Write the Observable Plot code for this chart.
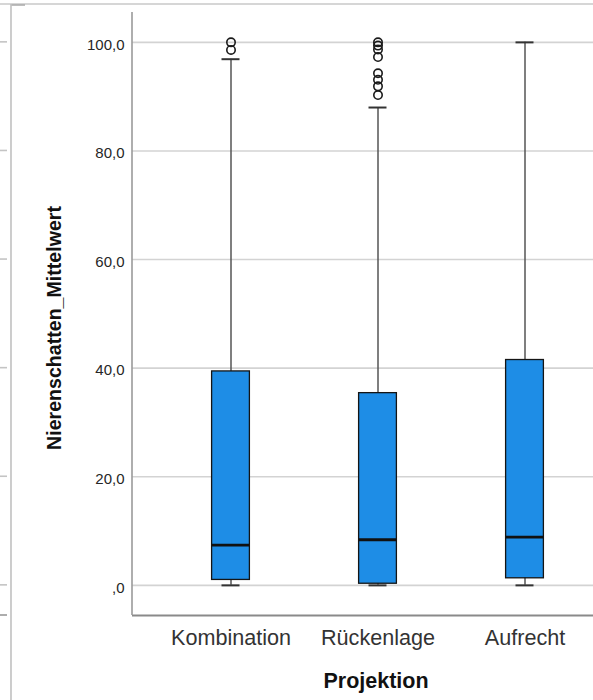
<!DOCTYPE html>
<html>
<head>
<meta charset="utf-8">
<script src="https://cdn.jsdelivr.net/npm/d3@7"></script>
<script src="https://cdn.jsdelivr.net/npm/@observablehq/plot@0.6"></script>
<style>
  body { margin: 0; background: #fff; }
  #chart { width: 593px; height: 700px; }
  #chart svg { display: block; }
</style>
</head>
<body>
<div id="chart"></div>
<script>
// Box plot summary per projection (whiskers, quartiles, median)
const categories = ["Kombination", "Rückenlage", "Aufrecht"];
const whiskerLow  = [0, 0, 0];
const quartile1   = [1.0, 0.3, 1.3];
const median      = [7.4, 8.4, 8.9];
const quartile3   = [39.4, 35.4, 41.5];
const whiskerHigh = [96.9, 88.0, 100];

// Outliers above the upper whiskers
const outlierGroup = ["Kombination", "Kombination",
  "Rückenlage", "Rückenlage", "Rückenlage", "Rückenlage", "Rückenlage",
  "Rückenlage", "Rückenlage", "Rückenlage"];
const outlierValue = [100, 98.6,
  100, 99.4, 98.7, 97.3,
  94.3, 93.1, 91.9, 90.3];

// Value axis
const yTicks = [0, 20, 40, 60, 80, 100];
const yTickLabels = [",0", "20,0", "40,0", "60,0", "80,0", "100,0"];
const yDomain = [-5.55, 105.5];

const yTitle = "Nierenschatten_Mittelwert";
const xTitle = "Projektion";

const boxes = categories.map((c, i) => ({
  c, lo: whiskerLow[i], q1: quartile1[i], med: median[i], q3: quartile3[i], hi: whiskerHigh[i]
}));
const outliers = outlierGroup.map((c, i) => ({c, v: outlierValue[i]}));

const W = 593, H = 700;
const mLeft = 132, mTop = 12, mBottom = 85;
const boxInset = 54.6;   // box width within each 147px band
const capInset = 64.5;   // whisker cap width

const chart = Plot.plot({
  width: W,
  height: H,
  marginLeft: mLeft,
  marginRight: 0,
  marginTop: mTop,
  marginBottom: mBottom,
  style: {fontFamily: "'Liberation Sans', Arial, sans-serif", background: "#fff", color: "#262626", overflow: "visible"},
  x: {domain: categories, range: [156.5, 597.5], padding: 0},
  y: {domain: yDomain},
  marks: [
    Plot.ruleY(yTicks, {stroke: "#d3d3d3", strokeWidth: 1.6}),
    Plot.ruleY([yDomain[0]], {stroke: "#8a8a8a", strokeWidth: 2}),
    Plot.ruleX(boxes, {x: "c", y1: "lo", y2: "hi", stroke: "#555", strokeWidth: 1.5}),
    Plot.tickY(boxes, {x: "c", y: "lo", insetLeft: capInset, insetRight: capInset, stroke: "#333", strokeWidth: 2}),
    Plot.tickY(boxes, {x: "c", y: "hi", insetLeft: capInset, insetRight: capInset, stroke: "#333", strokeWidth: 2}),
    Plot.barY(boxes, {x: "c", y1: "q1", y2: "q3", fill: "#1E8DE6", stroke: "#151515", strokeWidth: 1.3,
      insetLeft: boxInset, insetRight: boxInset}),
    Plot.tickY(boxes, {x: "c", y: "med", insetLeft: boxInset, insetRight: boxInset, stroke: "#111", strokeWidth: 2.8}),
    Plot.dot(outliers, {x: "c", y: "v", r: 4.2, stroke: "#1a1a1a", strokeWidth: 1.6, fill: "none"}),
    Plot.axisY(yTicks, {tickSize: 0, tickPadding: 8, fontSize: 15, dy: 2.5, label: null,
      tickFormat: d => yTickLabels[yTicks.indexOf(d)]}),
    Plot.axisX({tickSize: 0, tickPadding: 14, fontSize: 21.6, fill: "#333", label: null})
  ]
});

document.getElementById("chart").appendChild(chart);

// Panel frame, axis line and titles
const svg = d3.select(chart);
const y = chart.scale("y");
const yTop = y.apply(yDomain[1]);
const yBottom = y.apply(yDomain[0]);

svg.append("line")
  .attr("x1", mLeft).attr("x2", mLeft).attr("y1", yTop).attr("y2", yBottom)
  .attr("stroke", "#9a9a9a").attr("stroke-width", 1.6);

svg.append("line")
  .attr("x1", 0).attr("x2", W).attr("y1", 4).attr("y2", 4)
  .attr("stroke", "#c8c8c8").attr("stroke-width", 1.5);
svg.append("line")
  .attr("x1", 11).attr("x2", 25).attr("y1", 5).attr("y2", 5)
  .attr("stroke", "#a8a8a8").attr("stroke-width", 1.5);
svg.append("line")
  .attr("x1", 11).attr("x2", 11).attr("y1", 4).attr("y2", H)
  .attr("stroke", "#c0c0c0").attr("stroke-width", 1.6);

svg.append("g").selectAll("line")
  .data(yTicks.concat([yDomain[0]]))
  .join("line")
  .attr("x1", 0).attr("x2", 7)
  .attr("y1", d => y.apply(d)).attr("y2", d => y.apply(d))
  .attr("stroke", (d) => d === yDomain[0] ? "#999" : "#c4c4c4")
  .attr("stroke-width", 1.6);

svg.append("text")
  .attr("transform", "translate(60.5,328) rotate(-90)")
  .attr("text-anchor", "middle")
  .attr("font-family", "'Liberation Sans', Arial, sans-serif")
  .attr("font-weight", "bold")
  .attr("font-size", 19.6)
  .attr("fill", "#111")
  .text(yTitle);

svg.append("text")
  .attr("x", 376).attr("y", 688)
  .attr("text-anchor", "middle")
  .attr("font-family", "'Liberation Sans', Arial, sans-serif")
  .attr("font-weight", "bold")
  .attr("font-size", 21.5)
  .attr("fill", "#111")
  .text(xTitle);
</script>
</body>
</html>
